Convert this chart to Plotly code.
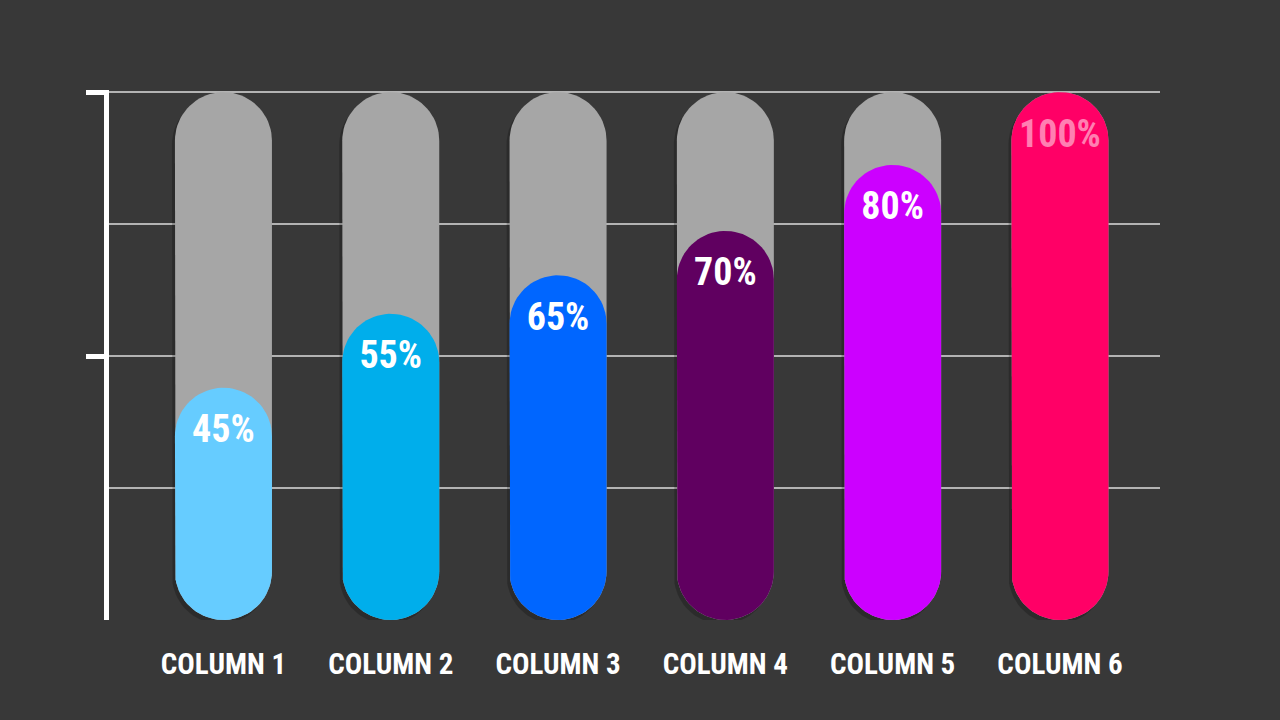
import numpy as np
import plotly.graph_objects as go

# ---- data ----
categories = ["COLUMN 1", "COLUMN 2", "COLUMN 3", "COLUMN 4", "COLUMN 5", "COLUMN 6"]
percent_labels = [45, 55, 65, 70, 80, 100]          # printed values
fill_levels = [44.0, 58.0, 65.3, 73.7, 86.2, 100.0]  # pill heights as drawn (axis units)
track_max = 100
colors = ["#66ccff", "#00aeeb", "#0066ff", "#600060", "#cc00ff", "#ff0066"]
label_colors = ["#ffffff"] * 5 + ["rgba(255,255,255,0.5)"]

FONT = "Roboto Condensed, DejaVu Sans Condensed, Liberation Sans Narrow, Roboto, sans-serif"

# ---- layout geometry ----
W, H = 1280, 720
ML, MR, MT, MB = 109, 120, 90, 100
plot_w = W - ML - MR
plot_h = H - MT - MB
x_range = [-0.684, 5.598]
y_range = [0, 100.4]
px_x = plot_w / (x_range[1] - x_range[0])
px_y = plot_h / (y_range[1] - y_range[0])

pill_w_px = 97
r_px = pill_w_px / 2
hw = r_px / px_x
ry = r_px / px_y
base = 0


def pill(cx, y0, y1, dx_px=0.0, dy_px=0.0):
    cx = cx + dx_px / px_x
    y0 = y0 - dy_px / px_y
    y1 = y1 - dy_px / px_y
    t_top = np.linspace(0, np.pi, 40)
    t_bot = np.linspace(np.pi, 2 * np.pi, 40)
    xs = list(cx + hw * np.cos(t_top)) + list(cx + hw * np.cos(t_bot))
    ys = list((y1 - ry) + ry * np.sin(t_top)) + list((y0 + ry) + ry * np.sin(t_bot))
    return xs + [xs[0]], ys + [ys[0]]


fig = go.Figure()
xpos = list(range(len(categories)))

# soft shadows
for i in xpos:
    xs, ys = pill(i, base, track_max, dx_px=-3, dy_px=4)
    fig.add_trace(go.Scatter(x=xs, y=ys, fill="toself", mode="lines",
                             line=dict(width=0), fillcolor="rgba(0,0,0,0.22)",
                             hoverinfo="skip", showlegend=False))
# gray tracks
for i in xpos:
    xs, ys = pill(i, base, track_max)
    fig.add_trace(go.Scatter(x=xs, y=ys, fill="toself", mode="lines",
                             line=dict(width=0), fillcolor="#a6a6a6",
                             hoverinfo="skip", showlegend=False))
# coloured fills
for i in xpos:
    xs, ys = pill(i, base, fill_levels[i])
    fig.add_trace(go.Scatter(x=xs, y=ys, fill="toself", mode="lines",
                             line=dict(width=0), fillcolor=colors[i],
                             hoverinfo="skip", showlegend=False))

# value labels
label_offset = 45 / px_y
fig.add_trace(go.Scatter(
    x=xpos, y=[v - label_offset for v in fill_levels], mode="text",
    text=[f"{p}%" for p in percent_labels], textposition="middle center",
    textfont=dict(family=FONT, size=38, color=label_colors, weight="bold"),
    hoverinfo="skip", showlegend=False))

fig.update_layout(
    width=W, height=H,
    margin=dict(l=ML, r=MR, t=MT, b=MB, pad=0),
    paper_bgcolor="#383838", plot_bgcolor="#383838",
    showlegend=False,
    xaxis=dict(range=x_range, tickvals=xpos, ticktext=categories,
               showgrid=False, zeroline=False, showline=False, ticks="",
               ticklabelstandoff=24,
               tickfont=dict(family=FONT, size=29, color="#ffffff", weight="bold"),
               fixedrange=True),
    yaxis=dict(range=y_range, tickvals=[50, 100], showticklabels=False,
               ticks="outside", ticklen=18, tickwidth=5, tickcolor="#ffffff",
               showline=True, linewidth=5, linecolor="#ffffff",
               showgrid=True, gridcolor="#b3b3b3", gridwidth=2, zeroline=False,
               minor=dict(tickvals=[25, 75], showgrid=True, gridcolor="#b3b3b3",
                          gridwidth=2, ticks=""),
               fixedrange=True),
)

fig.write_html("out.html")
